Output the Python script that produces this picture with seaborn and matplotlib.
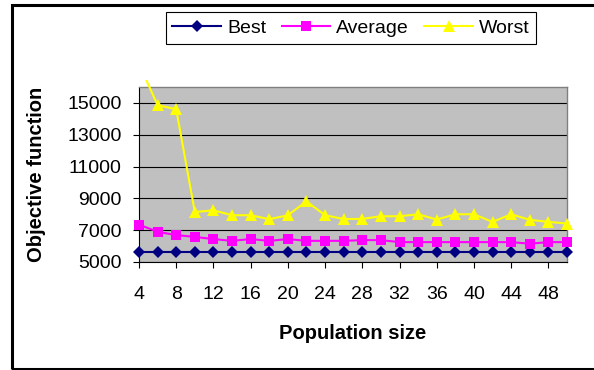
import matplotlib
matplotlib.use("Agg")
import matplotlib.pyplot as plt
import seaborn as sns
import pandas as pd
from matplotlib.patches import Rectangle
from matplotlib.transforms import Bbox

# Objective function values per population size
sizes = [4, 6, 8, 10, 12, 14, 16, 18, 20, 22, 24, 26,
         28, 30, 32, 34, 36, 38, 40, 42, 44, 46, 48, 50]
best = [5650, 5650, 5650, 5650, 5650, 5650, 5650, 5650, 5650, 5650, 5650, 5650,
        5650, 5650, 5650, 5650, 5650, 5650, 5650, 5650, 5650, 5650, 5650, 5650]
average = [7350, 6900, 6690, 6580, 6440, 6330, 6440, 6330, 6440, 6330, 6330, 6330,
           6375, 6375, 6250, 6250, 6250, 6250, 6250, 6250, 6250, 6150, 6250, 6250]
worst = [17450, 14860, 14600, 8140, 8250, 7940, 7940, 7690, 7940, 8810, 7940, 7700,
         7710, 7875, 7875, 8000, 7670, 8000, 8000, 7520, 8000, 7650, 7520, 7420]

series_names = ["Best", "Average", "Worst"]
y_ticks = [5000, 7000, 9000, 11000, 13000, 15000]
x_ticks = [4, 8, 12, 16, 20, 24, 28, 32, 36, 40, 44, 48]

df = pd.DataFrame({"Population size": sizes, "Best": best,
                   "Average": average, "Worst": worst})
long = df.melt(id_vars="Population size", var_name="series",
               value_name="Objective function")

plt.rcParams["font.family"] = ["Liberation Sans", "DejaVu Sans"]

W, H = 594, 370
fig = plt.figure(figsize=(W / 100, H / 100), dpi=100)
fig.patch.set_facecolor("white")
ax = fig.add_axes([139 / W, (H - 262) / H, 428 / W, 175 / H])
ax.set_facecolor("#C0C0C0")

styles = {
    "Best": ("#000080", "D", 6.3),
    "Average": ("#FF00FF", "s", 6.8),
    "Worst": ("#FFFF00", "^", 8.3),
}

for name in series_names:
    color, marker, ms = styles[name]
    sub = long[long["series"] == name]
    sns.lineplot(data=sub, x="Population size", y="Objective function",
                 color=color, marker=marker, markersize=ms,
                 markeredgewidth=0, linewidth=1.5, errorbar=None,
                 label=name, ax=ax)

if ax.get_legend() is not None:
    ax.get_legend().remove()

lines = ax.get_lines()
for ln in lines[:2]:
    ln.set_clip_on(False)
    ln.set_zorder(3)
# the worst series may run a little above the plotting area
lines[2].set_clip_box(Bbox.from_extents(128, H - 268, 578, H - 80))
lines[2].set_zorder(4)

ax.set_xlim(4, 50)
ax.set_ylim(5000, 16000)
ax.set_xticks(x_ticks)
ax.set_xticklabels([str(v) for v in x_ticks])
ax.set_yticks(y_ticks)
ax.set_yticklabels([str(v) for v in y_ticks])

ax.yaxis.grid(True, color="black", linewidth=0.8)
ax.xaxis.grid(False)
ax.set_axisbelow(True)

for side in ["left", "bottom"]:
    ax.spines[side].set_color("black")
    ax.spines[side].set_linewidth(0.8)
for side in ["top", "right"]:
    ax.spines[side].set_color("#808080")
    ax.spines[side].set_linewidth(1.0)

ax.tick_params(axis="both", direction="out", length=4.5, width=0.8,
               color="black", labelsize=14, labelcolor="black")
ax.tick_params(axis="y", pad=8)
ax.tick_params(axis="x", pad=13)

ax.set_xlabel("Population size", fontsize=14.5, fontweight="bold",
              va="baseline")
ax.xaxis.set_label_coords(0.5, (262 - 339) / 175)
ax.set_ylabel("Objective function", fontsize=14.5, fontweight="bold",
              va="center")
ax.yaxis.set_label_coords((37 - 139) / 428, 0.5)

handles, labels = ax.get_legend_handles_labels()
leg = fig.legend(handles, labels, loc="center",
                 bbox_to_anchor=(351 / W, (H - 28) / H), ncol=3,
                 fontsize=14, frameon=True, fancybox=False,
                 edgecolor="black", framealpha=1, borderpad=0.35,
                 handlelength=2.5, handletextpad=0.3, columnspacing=0.8,
                 borderaxespad=0)
leg.get_frame().set_linewidth(0.8)

# chart border
fig.add_artist(Rectangle((12 / W, (H - 368.5) / H), 1.0, (368.5 - 5.3) / H,
                         transform=fig.transFigure, fill=False,
                         edgecolor="black", linewidth=2.2, clip_on=False))

fig.savefig("out.png", dpi=100)
